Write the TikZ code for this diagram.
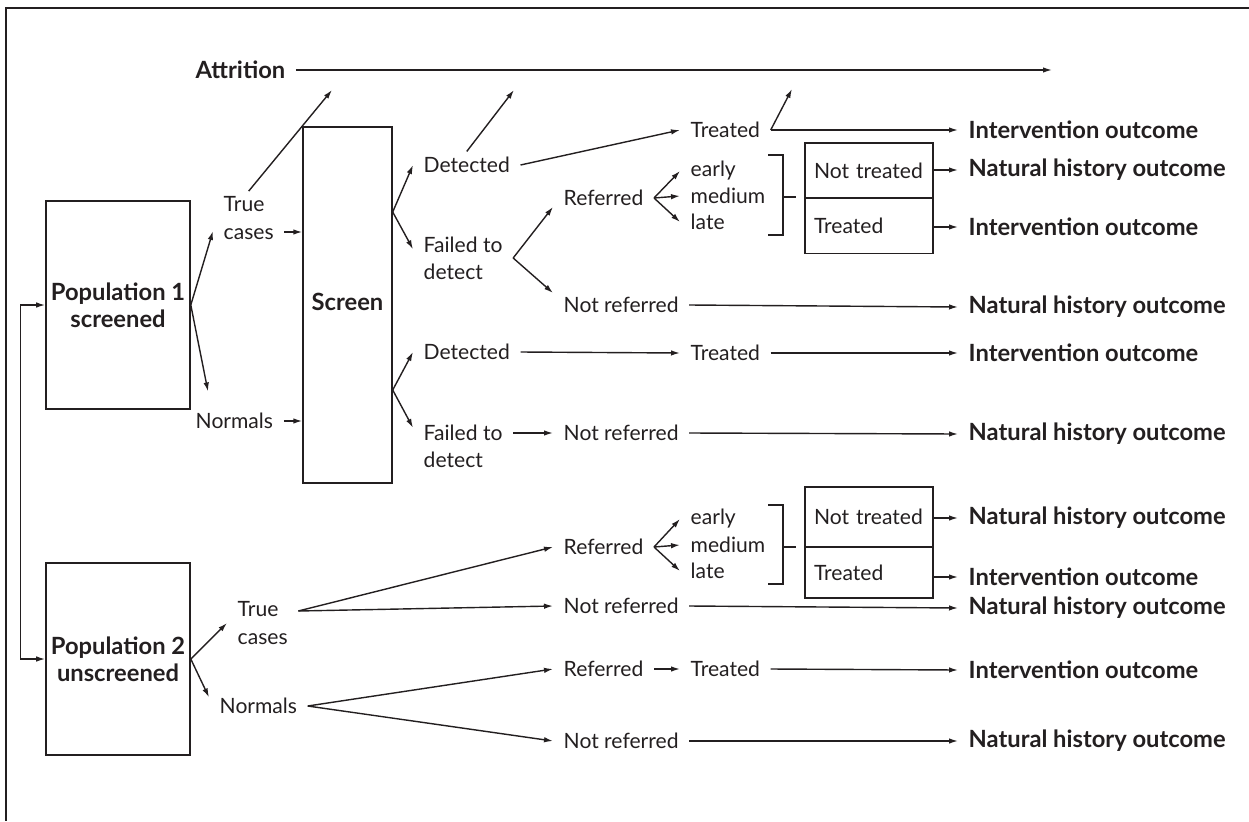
\documentclass[tikz,border=0pt]{standalone}
\usepackage{fontspec}
\setmainfont{Lato}
\usetikzlibrary{arrows.meta}
\definecolor{ink}{RGB}{35,31,32}

\begin{document}
\begin{tikzpicture}[x=0.2mm,y=-0.2mm,line width=0.8pt,color=ink,
  >={Latex[length=1.8mm,width=1.1mm]},
  lbl/.style={inner xsep=2mm,inner ysep=1mm,anchor=west,align=left,
    font=\fontsize{12}{15.4}\selectfont},
  outc/.style={lbl,font=\fontsize{13.5}{15.4}\selectfont\bfseries},
  box/.style={draw,inner sep=1mm,align=center,
    font=\fontsize{13.5}{15.4}\selectfont\bfseries},
  tbox/.style={draw,inner xsep=1.8mm,text width=22mm,minimum height=11mm,
    align=left,font=\fontsize{12}{15.4}\selectfont}]
  \useasboundingbox (0,0) rectangle (1249,821);
  % frame
  \draw[line width=1.1pt] (1249,8) -- (6,8) -- (6,821);

  % populations and screen
  \node[box,minimum width=26.4mm,minimum height=41.6mm] (pop1) at (118,305) {Population 1\\screened};
  \node[box,minimum width=17.8mm,minimum height=71.2mm] (screen) at (347.5,305) {\raisebox{1.4mm}{Screen}};
  \node[box,minimum width=26.4mm,minimum height=38.4mm] (pop2) at (118,659) {Population 2\\unscreened};
  \draw[<->] (pop1.west) -- ++(-25,0) |- (pop2.west);

  % attrition
  \node[outc] (attr) at (185,70) {Attrition};
  \coordinate (attend) at (1052,70);
  \coordinate (up1) at (332,90);
  \coordinate (up2) at (514,90);
  \coordinate (up3) at (792,89);
  \draw[->] (attr.east) -- (attend);

  % population 1
  \node[lbl] (true1) at (213,218) {True\\cases};
  \node[lbl] (norm1) at (185,421) {Normals};
  \draw[->] (pop1.east) -- (true1.200);
  \draw[->] (pop1.east) -- ([xshift=4.6mm,yshift=3.2mm]norm1.north west);
  \draw[->] (true1.north) -- (up1);
  \draw[->] ([yshift=-2.8mm]true1.east) coordinate (tc1) -- (tc1 -| screen.west);
  \draw[->] (norm1.east) -- (norm1.east -| screen.west);

  % true cases after screen
  \coordinate (sv1) at ([yshift=18.6mm]screen.east);
  \coordinate (sv2) at ([yshift=-17mm]screen.east);
  \node[lbl] (det1) at (413,165) {Detected};
  \node[lbl] (fail1) at (413,258) {Failed to\\detect};
  \node[lbl] (treat1) at (680,130) {Treated};
  \node[lbl] (ref1) at (553,198) {Referred};
  \node[lbl] (early1) at (680,171) {early};
  \node[lbl] (med1) at (680,196) {medium};
  \node[lbl] (late1) at (680,222) {late};
  \node[lbl] (nref1) at (553,305) {Not referred};
  \node[tbox] (nt1) at (869,170.5) {Not treated};
  \node[tbox] (tr1) at (869,226) {Treated};
  \draw[->] (sv1) -- (det1.west);
  \draw[->] (sv1) -- (fail1.170);
  \draw[->] (det1.north) -- (up2);
  \draw[->] (det1.east) -- (treat1.west);
  \draw[->] (treat1.east) -- (up3);
  \draw[->] (fail1.east) -- (ref1.190);
  \draw[->] (fail1.east) -- (nref1.170);
  \foreach \s in {early1,med1,late1}
    \draw[->] (ref1.east) -- (\s.west);
  \draw (768,155) -- (783,155) -- (783,235) -- (768,235);
  \draw (783,197) -- (796,197);

  % normals after screen
  \node[lbl] (det2) at (413,352) {Detected};
  \node[lbl] (fail2) at (413,446) {Failed to\\detect};
  \node[lbl] (treat2) at (680,353) {Treated};
  \node[lbl] (nref2) at (553,433) {Not referred};
  \draw[->] (sv2) -- (det2.west);
  \draw[->] (sv2) -- (fail2.160);
  \draw[->] (det2.east) -- (treat2.west);
  \draw[->] (fail2.east |- nref2.west) -- (nref2.west);

  % population 2
  \node[lbl] (true2) at (227,623) {True\\cases};
  \node[lbl] (norm2) at (209,706) {Normals};
  \node[lbl] (ref2) at (553,547) {Referred};
  \node[lbl] (early2) at (680,519) {early};
  \node[lbl] (med2) at (680,545) {medium};
  \node[lbl] (late2) at (680,571) {late};
  \node[lbl] (nref3) at (553,606) {Not referred};
  \node[lbl] (ref3) at (553,669) {Referred};
  \node[lbl] (treat3) at (680,669) {Treated};
  \node[lbl] (nref4) at (553,741) {Not referred};
  \node[tbox,minimum height=12mm] (nt2) at (869,517) {Not treated};
  \node[tbox,minimum height=10.2mm] (tr2) at (869,572.5) {Treated};
  \coordinate (tv2) at ([yshift=2.4mm]true2.east);
  \draw[->] (pop2.east) -- (true2.west);
  \draw[->] (pop2.east) -- (norm2.170);
  \draw[->] (tv2) -- (ref2.west);
  \draw[->] (tv2) -- (nref3.west);
  \draw[->] (norm2.east) -- (ref3.west);
  \draw[->] (norm2.east) -- (nref4.west);
  \draw[->] (ref3.east) -- (treat3.west);
  \foreach \s in {early2,med2,late2}
    \draw[->] (ref2.east) -- (\s.west);
  \draw (768,505) -- (783,505) -- (783,584) -- (768,584);
  \draw (783,547) -- (796,547);

  % outcomes
  \node[outc] (io1) at (958,130) {Intervention outcome};
  \node[outc] (nh1) at (958,170) {Natural history outcome};
  \node[outc] (io2) at (958,227) {Intervention outcome};
  \node[outc] (nh2) at (958,307) {Natural history outcome};
  \node[outc] (io3) at (958,353) {Intervention outcome};
  \node[outc] (nh3) at (958,434) {Natural history outcome};
  \node[outc] (nh4) at (958,518) {Natural history outcome};
  \node[outc] (io4) at (958,577) {Intervention outcome};
  \node[outc] (nh5) at (958,608) {Natural history outcome};
  \node[outc] (io5) at (958,670) {Intervention outcome};
  \node[outc] (nh6) at (958,741) {Natural history outcome};
  \draw[->] (treat1.east) -- (io1.west);
  \draw[->] (nt1.east |- nh1.west) -- (nh1.west);
  \draw[->] (tr1.east |- io2.west) -- (io2.west);
  \draw[->] (nref1.east) -- (nh2.west);
  \draw[->] (treat2.east) -- (io3.west);
  \draw[->] (nref2.east) -- (nh3.west);
  \draw[->] (nt2.east |- nh4.west) -- (nh4.west);
  \draw[->] (tr2.east |- io4.west) -- (io4.west);
  \draw[->] (nref3.east) -- (nh5.west);
  \draw[->] (treat3.east) -- (io5.west);
  \draw[->] (nref4.east) -- (nh6.west);
\end{tikzpicture}
\end{document}
